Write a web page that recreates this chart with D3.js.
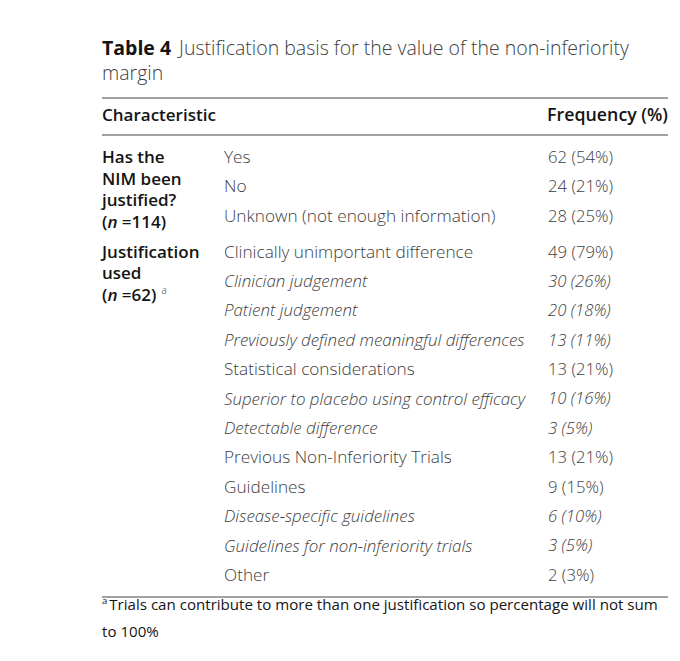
<!DOCTYPE html>
<html><head><meta charset="utf-8">
<script src="https://cdn.jsdelivr.net/npm/d3@7"></script>
<style>
html,body{margin:0;padding:0;background:#fff;}
svg text{font-family:"Open Sans",Lato,sans-serif;}
</style></head>
<body><svg id="c" width="680" height="661"></svg>
<script>
const titleBold = "Table 4";
const titleLines = ["Justification basis for the value of the non-inferiority", "margin"];
const headers = ["Characteristic", "Frequency (%)"];
const categories = ["Yes","No","Unknown (not enough information)",
  "Clinically unimportant difference","Clinician judgement","Patient judgement",
  "Previously defined meaningful differences","Statistical considerations",
  "Superior to placebo using control efficacy","Detectable difference",
  "Previous Non-Inferiority Trials","Guidelines","Disease-specific guidelines",
  "Guidelines for non-inferiority trials","Other"];
const counts =   [62,24,28,49,30,20,13,13,10,3,13,9,6,3,2];
const percents = [54,21,25,79,26,18,11,21,16,5,21,15,10,5,3];
const groupOf =  [0,0,0,1,1,1,1,1,1,1,1,1,1,1,1];
const italicRows=[0,0,0,0,1,1,1,0,1,1,0,0,1,1,0];
const groupLabels = [
  [["Has the"],["NIM been"],["justified?"],["(", ["n",true], " =114)"]],
  [["Justification"],["used"],["(", ["n",true], " =62)", ["sup","a"]]]
];
const footnote = ["Trials can contribute to more than one justification so percentage will not sum", "to 100%"];

const svg = d3.select("#c");
const x = d3.scaleLinear().domain([0,1]).range([102,668]);
const colX = [102, 224, 548];
const gap = 0.22;
const pos = categories.map((d,i)=> i + (groupOf[i] ? gap : 0));
const y = d3.scaleLinear().domain([0, 14+gap]).range([157, 575]);

const grey = "#404040", dark = "#141414";
const fs = 17.2, fsIt = 16.9, fsNum = 16.7, fsBold = 17;

// title
const t = svg.append("text").attr("x",102).attr("y",48).attr("dy","0.35em")
  .attr("font-size",19.5).attr("fill",grey);
t.append("tspan").attr("font-weight",700).attr("fill",dark).text(titleBold);
t.append("tspan").attr("dx",8).attr("font-weight",300).text(titleLines[0]);
svg.append("text").attr("x",102).attr("y",73).attr("dy","0.35em")
  .attr("font-size",19.5).attr("font-weight",300).attr("fill",grey).text(titleLines[1]);

// rules
[98,135,597].forEach(v=>{
  svg.append("line").attr("x1",x(0)).attr("x2",x(1)).attr("y1",v).attr("y2",v)
    .attr("stroke","#444").attr("stroke-width",1.1);
});

// header
svg.append("text").attr("x",colX[0]).attr("y",115).attr("dy","0.35em")
  .attr("font-size",fsBold).attr("font-weight",600).attr("fill",dark).text(headers[0]);
svg.append("text").attr("x",x(1)).attr("y",115).attr("dy","0.35em").attr("text-anchor","end")
  .attr("font-size",fsBold+0.8).attr("font-weight",600).attr("fill",dark).text(headers[1]);

// group labels
const groupStart = [0,3];
groupLabels.forEach((lines,g)=>{
  const y0 = y(pos[groupStart[g]]);
  lines.forEach((parts,k)=>{
    const tx = svg.append("text").attr("x",colX[0]).attr("y",y0 + k*21.7).attr("dy","0.35em")
      .attr("font-size",fsBold).attr("font-weight",600).attr("fill",dark);
    parts.forEach(p=>{
      if (typeof p === "string") tx.append("tspan").text(p);
      else if (p[0]==="sup") tx.append("tspan").attr("font-size",10).attr("font-weight",300)
        .attr("dx",5).attr("dy",-7).attr("fill",grey).text(p[1]);
      else tx.append("tspan").attr("font-style","italic").text(p[0]);
    });
  });
});

// rows
const rows = svg.append("g").selectAll("g").data(categories).join("g")
  .attr("transform",(d,i)=>`translate(0,${y(pos[i])})`);
rows.append("text").attr("x",colX[1]).attr("dy","0.35em")
  .attr("font-size",(d,i)=>italicRows[i]?fsIt:fs).attr("font-weight",300).attr("fill",grey)
  .attr("font-style",(d,i)=>italicRows[i]?"italic":"normal").text(d=>d);
rows.append("text").attr("x",colX[2]).attr("dy","0.35em")
  .attr("font-size",fsNum).attr("font-weight",300).attr("fill",grey)
  .attr("font-style",(d,i)=>italicRows[i]?"italic":"normal")
  .text((d,i)=>`${counts[i]} (${percents[i]}%)`);

// footnote
const f = svg.append("text").attr("x",102).attr("y",610).attr("dy","0.35em")
  .attr("font-size",15.1).attr("fill",dark);
f.append("tspan").attr("font-size",9.5).attr("dy",-6).text("a");
f.append("tspan").attr("dy",6).attr("dx",2).text(footnote[0]);
svg.append("text").attr("x",102).attr("y",632).attr("dy","0.35em")
  .attr("font-size",15.1).attr("fill",dark).text(footnote[1]);
</script></body></html>
